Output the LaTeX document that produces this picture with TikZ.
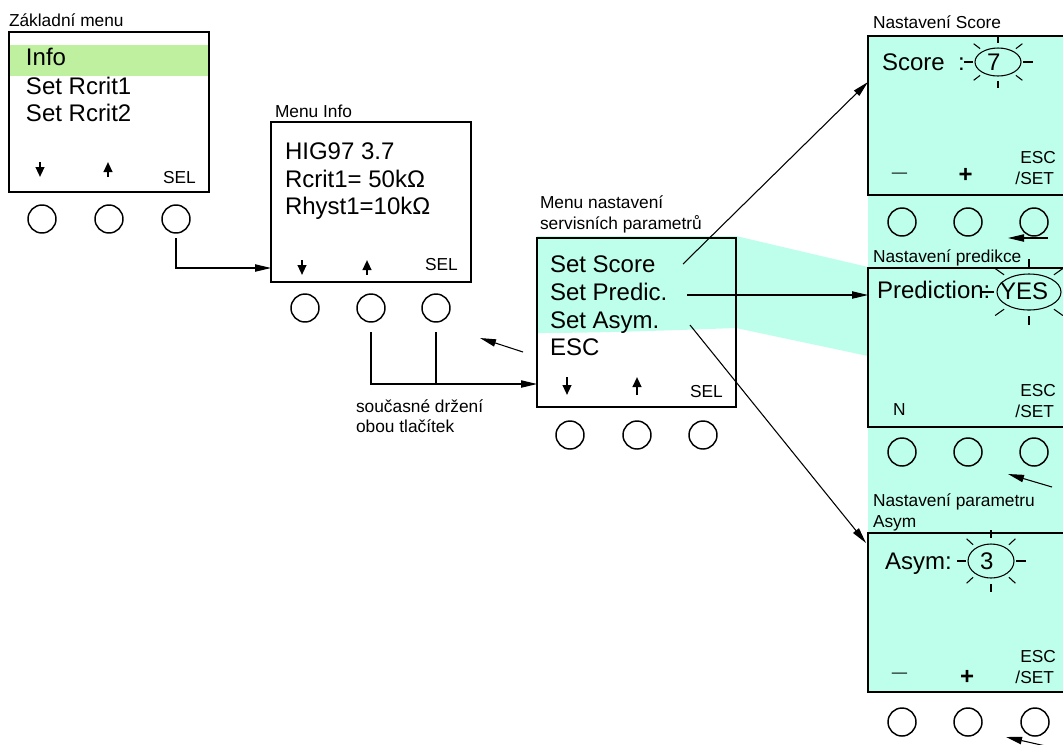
\documentclass[tikz,border=0pt]{standalone}
\usepackage{fontspec}
\setmainfont{Liberation Sans}
\usetikzlibrary{arrows.meta,shapes.geometric,calc}
\definecolor{cyanbg}{RGB}{190,255,235}
\definecolor{greenhl}{RGB}{190,240,160}
\newcommand\blinkrays[4]{%
  \foreach \a in {0,45,...,315}{%
    \draw[ray] ({#1+1.1*#3*cos(\a)},{#2+1.35*#4*sin(\a)}) -- ({#1+1.5*#3*cos(\a)},{#2+1.85*#4*sin(\a)});
  }%
}
\tikzset{
 every node/.style={inner sep=0pt, outer sep=0pt},
 box/.style={draw, line width=1.6pt, minimum width=150pt, minimum height=120pt, anchor=north west},
 btn/.style={draw, circle, line width=1.1pt, minimum size=21pt},
 big/.style={font=\fontsize{18}{21}\selectfont, anchor=base west},
 lbl/.style={font=\fontsize{13}{15}\selectfont, anchor=base west},
 lblr/.style={font=\fontsize{13}{15}\selectfont, anchor=base east},
 sym/.style={font=\fontsize{18}{21}\selectfont, anchor=center},
 conn/.style={line width=0.8pt, -{Triangle[length=12pt,width=5.5pt]}},
 glyph/.style={line width=1.5pt, -{Triangle[length=7.5pt,width=6.5pt]}},
 blink/.style={draw, ellipse, line width=0.8pt},
 ray/.style={line width=0.8pt},
}
\begin{document}
\begin{tikzpicture}[x=0.75pt,y=-0.75pt]
\useasboundingbox (0,0) rectangle (1063,744);
\clip (0,0) rectangle (1063,744);

% background highlights
\fill[cyanbg] (537,236) -- (736,236) -- (868,267) -- (868,36) -- (1063,36) -- (1063,692)
  -- (868,692) -- (868,356) -- (736,328) .. controls (680,330) and (600,333) .. (537,333) -- cycle;
\fill[greenhl] (9,45) rectangle (209,76);

% ---------- Zakladni menu ----------
\node[lbl] (l1) at (9,26) {Základní menu};
\node[box] (b1) at (9,32) {};
\node[big] (t11) at (26,65) {Info};
\node[big] (t12) at (26,94) {Set Rcrit1};
\node[big] (t13) at (26,121) {Set Rcrit2};
\node[lbl] (sel1) at (163,183) {SEL};
\draw[glyph] (40,162) -- (40,177);
\draw[glyph] (108,177) -- (108,162);
\node[btn] (c11) at (42,219) {};
\node[btn] (c12) at (109,219) {};
\node[btn] (c13) at (176,219) {};

% ---------- Menu Info ----------
\node[lbl] (l2) at (275,117) {Menu Info};
\node[box] (b2) at (271,122) {};
\node[big] (t21) at (285,159) {HIG97 3.7};
\node[big] (t22) at (285,187) {Rcrit1= 50kΩ};
\node[big] (t23) at (285,214) {Rhyst1=10kΩ};
\node[lbl] (sel2) at (425,270) {SEL};
\draw[glyph] (302,260) -- (302,275);
\draw[glyph] (367,275) -- (367,260);
\node[btn] (c21) at (305,308) {};
\node[btn] (c22) at (371,308) {};
\node[btn] (c23) at (436,308) {};

% ---------- Menu nastaveni ----------
\node[lbl] (l3a) at (540,208) {Menu nastavení};
\node[lbl] (l3b) at (540,229) {servisních parametrů};
\node[box, minimum width=149.25pt, minimum height=126.75pt] (b3) at (537,238) {};
\node[big] (t31) at (550,272) {Set Score};
\node[big] (t32) at (550,300) {Set Predic.};
\node[big] (t33) at (550,328) {Set Asym.};
\node[big] (t34) at (550,355) {ESC};
\node[lbl] (sel3) at (690,397) {SEL};
\draw[glyph] (567,377) -- (567,395);
\draw[glyph] (637,395) -- (637,377);
\node[btn] (c31) at (570,435) {};
\node[btn] (c32) at (637,435) {};
\node[btn] (c33) at (703,435) {};

% ---------- Nastaveni Score ----------
\node[lbl] (l4) at (873,28) {Nastavení Score};
\node[box, minimum height=119.25pt] (p1) at (868,36) {};
\node[big] (t41) at (882,70) {Score\hspace{10pt}:};
\node[blink, minimum width=34.5pt, minimum height=21pt] (e1) at (998,62) {};
\blinkrays{998}{62}{23}{14}
\node[big] (v1) at (987,70) {7};
\node[font=\fontsize{11.5}{13}\selectfont] (m1) at (899.5,175) {—};
\node[sym] (pl1) at (965.5,175) {\textbf{+}};
\node[lblr] (esc1) at (1056,163) {ESC};
\node[lblr] (set1) at (1054,184) {/SET};
\node[btn] (c41) at (902,222) {};
\node[btn] (c42) at (968,222) {};
\node[btn] (c43) at (1034,222) {};

% ---------- Nastaveni predikce ----------
\node[lbl] (l5) at (873,262) {Nastavení predikce};
\node[box, minimum height=119.25pt] (p2) at (868,268) {};
\node[big] (t51) at (877,298) {Prediction:};
\node[blink, minimum width=48pt, minimum height=27pt] (e2) at (1029,292) {};
\blinkrays{1029}{292}{32}{18}
\node[big] (v2) at (1000,299) {YES};
\node[lbl] (n5) at (893,415) {N};
\node[lblr] (esc2) at (1056,396) {ESC};
\node[lblr] (set2) at (1054,417) {/SET};
\node[btn] (c51) at (902,452) {};
\node[btn] (c52) at (968,452) {};
\node[btn] (c53) at (1034,452) {};

% ---------- Nastaveni parametru Asym ----------
\node[lbl] (l6a) at (873,506) {Nastavení parametru};
\node[lbl] (l6b) at (873,527) {Asym};
\node[box, minimum height=119.25pt] (p3) at (868,533) {};
\node[big] (t61) at (885,569) {Asym:};
\node[blink, minimum width=34.5pt, minimum height=25.5pt] (e3) at (991,561) {};
\blinkrays{991}{561}{23}{17}
\node[big] (v3) at (980,569) {3};
\node[font=\fontsize{11.5}{13}\selectfont] (m3) at (899.5,675) {—};
\node[sym] (pl3) at (967,677) {\textbf{+}};
\node[lblr] (esc3) at (1056,662) {ESC};
\node[lblr] (set3) at (1054,683) {/SET};
\node[btn] (c61) at (902,722) {};
\node[btn] (c62) at (968,722) {};
\node[btn] (c63) at (1035,722) {};

% ---------- connectors ----------
\draw[conn] ($(c13.south)+(0,5)$) |- ($(b2.south west)+(0,-14)$);
\coordinate (j) at ($(b3.south west)+(0,-23)$);
\coordinate (d22) at ($(c22.south)+(0,10)$);
\coordinate (d23) at ($(c23.south)+(0,10)$);
\draw[conn] (d22) |- (j);
\draw[line width=0.8pt] (d23) -- (d23 |- j);
\node[lbl] (h1) at (356,412) {současné držení};
\node[lbl] (h2) at (356,432) {obou tlačítek};

\coordinate (r1) at (523,352);
\coordinate (r2) at (480,338);
\draw[conn] (r1) -- (r2);

\coordinate (s1) at (683,264);
\coordinate (s2) at (687,295);
\coordinate (s3) at (690,325);
\draw[conn] (s1) -- ($(p1.north west)+(0,46)$);
\draw[conn] (s2) -- ($(p2.north west)+(0,27)$);
\draw[conn] (s3) -- ($(p3.north west)+(-2,10)$);

\coordinate (q1a) at (1048,238); \coordinate (q1b) at (1008,238);
\coordinate (q2a) at (1052,487); \coordinate (q2b) at (1008,474);
\coordinate (q3a) at (1050,747); \coordinate (q3b) at (1006,737);
\draw[conn] (q1a) -- (q1b);
\draw[conn] (q2a) -- (q2b);
\draw[conn] (q3a) -- (q3b);
\end{tikzpicture}
\end{document}
